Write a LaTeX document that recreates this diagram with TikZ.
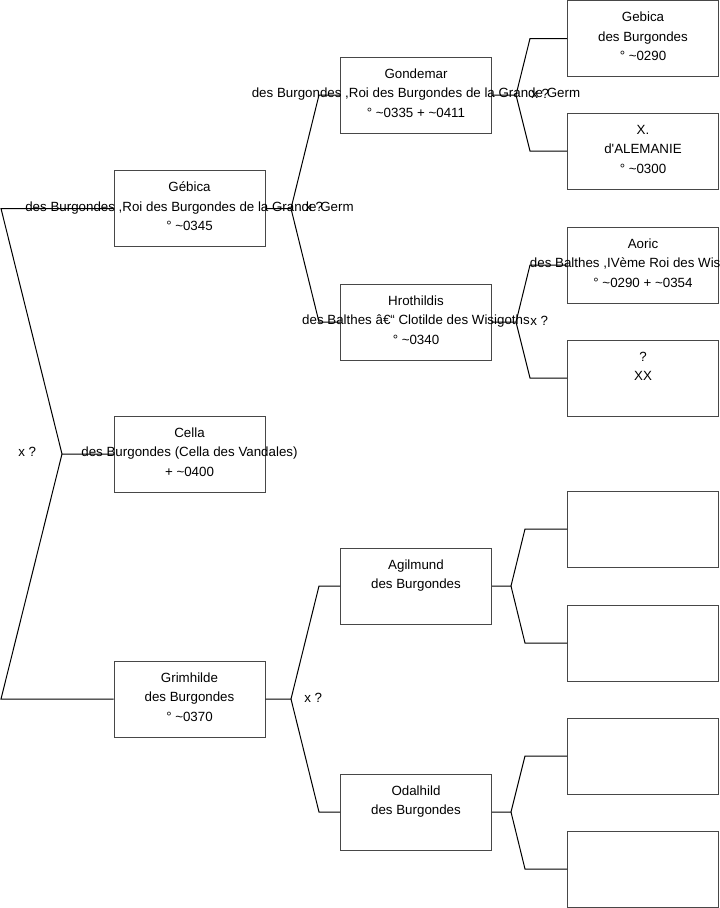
\documentclass[tikz,border=0pt]{standalone}
\usepackage{fontspec}
\setmainfont{Liberation Sans}[Ligatures=TeXOff]
\tikzset{
  person/.style={draw=black!72, line width=0.75pt, minimum width=113.25pt, minimum height=57pt, inner sep=0pt},
  txtline/.style={font=\fontsize{10pt}{12pt}\selectfont, inner sep=0pt, anchor=base},
  xlabel/.style={font=\fontsize{10pt}{12pt}\selectfont, inner sep=0pt, anchor=base west},
  conn/.style={draw=black, line width=0.75pt},
}
\newcommand\personbox[6]{%
  \node[person] (#1) at (#2,#3) {};
  \node[txtline] (#1-1) at (#2,#3-17) {#4};
  \node[txtline] (#1-2) at (#2,#3+2.5) {#5};
  \node[txtline] (#1-3) at (#2,#3+22) {#6};
}
\begin{document}
\begin{tikzpicture}[x=0.75pt,y=-0.75pt]
\useasboundingbox (0,0) rectangle (719,908);
\clip (0,0) rectangle (719,908);
\fill[white] (0,0) rectangle (719,908);

% level 1
\personbox{gebica}{189.5}{208.5}{Gébica}{des Burgondes ,Roi des Burgondes de la Grande Germ}{° \textasciitilde 0345}
\personbox{cella}{189.5}{454}{Cella}{des Burgondes (Cella des Vandales)}{+ \textasciitilde 0400}
\personbox{grimhilde}{189.5}{699}{Grimhilde}{des Burgondes}{° \textasciitilde 0370}
% level 2
\personbox{gondemar}{416}{95}{Gondemar}{des Burgondes ,Roi des Burgondes de la Grande Germ}{° \textasciitilde 0335 + \textasciitilde 0411}
\personbox{hrothildis}{416}{322}{Hrothildis}{des Balthes â€“ Clotilde des Wisigoths}{° \textasciitilde 0340}
\personbox{agilmund}{416}{586}{Agilmund}{des Burgondes}{}
\personbox{odalhild}{416}{812}{Odalhild}{des Burgondes}{}
% level 3
\personbox{gebicaII}{643}{38.5}{Gebica}{des Burgondes}{° \textasciitilde 0290}
\personbox{xalem}{643}{151}{X.}{d'ALEMANIE}{° \textasciitilde 0300}
\personbox{aoric}{643}{265}{Aoric}{des Balthes ,IVème Roi des Wisigoths}{° \textasciitilde 0290 + \textasciitilde 0354}
\personbox{unknown}{643}{378}{?}{XX}{}
\node[person] (e1) at (643,529) {};
\node[person] (e2) at (643,643) {};
\node[person] (e3) at (643,756) {};
\node[person] (e4) at (643,869) {};

% root fork
\coordinate (r0) at (62,454);
\coordinate (r1) at (1,208.5);
\coordinate (r2) at (1,699);
\draw[conn] (gebica.west) -- (r1) -- (r0) -- (cella.west);
\draw[conn] (r0) -- (r2) -- (grimhilde.west);
\node[xlabel] (x0) at (18,456) {x ?};

% gebica fork
\coordinate (f1) at (291,208.5);
\coordinate (f1a) at (319,95);
\coordinate (f1b) at (319,322);
\draw[conn] (gebica.east) -- (f1) -- (f1a) -- (gondemar.west);
\draw[conn] (f1) -- (f1b) -- (hrothildis.west);
\node[xlabel] (x1) at (305,211) {x ?};

% grimhilde fork
\coordinate (f2) at (291,699);
\coordinate (f2a) at (319,586);
\coordinate (f2b) at (319,812);
\draw[conn] (grimhilde.east) -- (f2) -- (f2a) -- (agilmund.west);
\draw[conn] (f2) -- (f2b) -- (odalhild.west);
\node[xlabel] (x2) at (304,702) {x ?};

% gondemar fork
\coordinate (f3) at (516,95);
\coordinate (f3a) at (530,38.5);
\coordinate (f3b) at (530,151);
\draw[conn] (gondemar.east) -- (f3) -- (f3a) -- (gebicaII.west);
\draw[conn] (f3) -- (f3b) -- (xalem.west);
\node[xlabel] (x3) at (531,98) {x ?};

% hrothildis fork
\coordinate (f4) at (516,322);
\coordinate (f4a) at (530,265);
\coordinate (f4b) at (530,378);
\draw[conn] (hrothildis.east) -- (f4) -- (f4a) -- (aoric.west);
\draw[conn] (f4) -- (f4b) -- (unknown.west);
\node[xlabel] (x4) at (530,325) {x ?};

% agilmund fork
\coordinate (f5) at (511,586);
\coordinate (f5a) at (525,529);
\coordinate (f5b) at (525,643);
\draw[conn] (agilmund.east) -- (f5) -- (f5a) -- (e1.west);
\draw[conn] (f5) -- (f5b) -- (e2.west);

% odalhild fork
\coordinate (f6) at (511,812);
\coordinate (f6a) at (525,756);
\coordinate (f6b) at (525,869);
\draw[conn] (odalhild.east) -- (f6) -- (f6a) -- (e3.west);
\draw[conn] (f6) -- (f6b) -- (e4.west);
\end{tikzpicture}
\end{document}
